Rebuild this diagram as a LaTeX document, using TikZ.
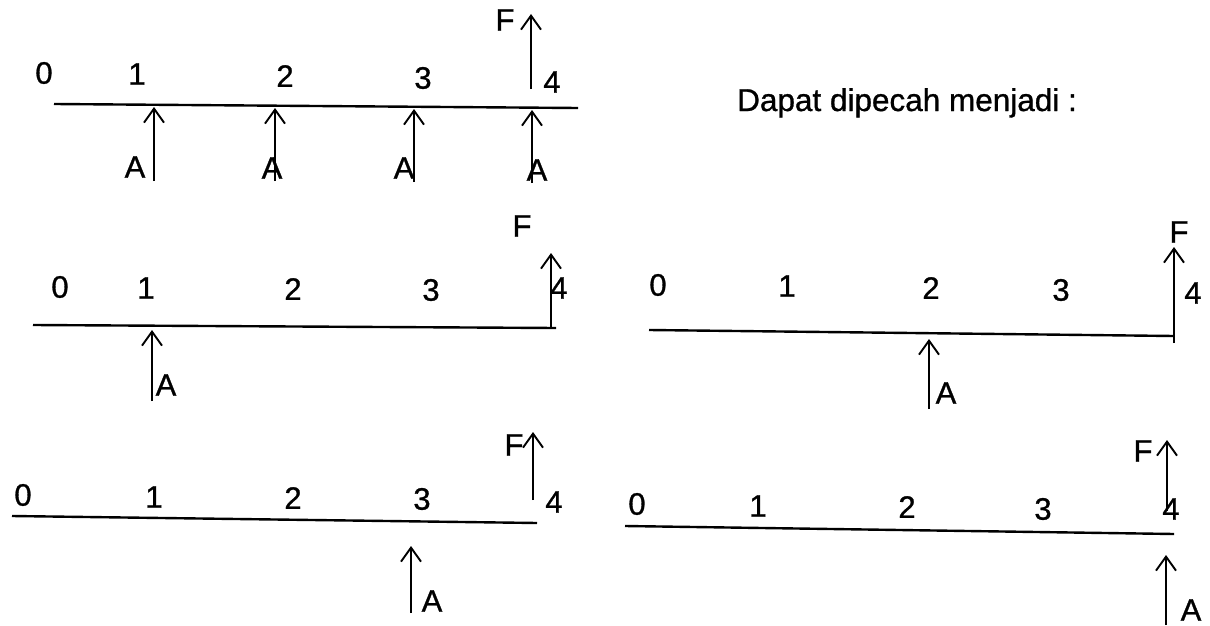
\documentclass[tikz,border=0pt]{standalone}
\usepackage{fontspec}
\setmainfont{Liberation Sans}
\newfontfamily\scanfont{Liberation Sans}[FakeBold=0.9]
\usetikzlibrary{arrows.meta}
\begin{document}
\begin{tikzpicture}[x=1pt,y=-1pt,
  lbl/.style={inner sep=0pt,font=\scanfont\fontsize{31}{31}\selectfont},
  tline/.style={line width=2.4pt},
  arr/.style={line width=1.9pt,-{Straight Barb[length=14pt,width=20pt,line width=1.9pt]}}]
\useasboundingbox (0,0) rectangle (1210,626);
% ---------- row 1 ----------
\node[lbl] (r1n0) at (44,73) {0};
\node[lbl] (r1n1) at (137,74) {1};
\node[lbl] (r1n2) at (285,76) {2};
\node[lbl] (r1n3) at (423,78) {3};
\node[lbl] (r1n4) at (552,82) {4};
\coordinate (r1l) at (54,104); \coordinate (r1r) at (578,108);
\draw[tline] (r1l) -- (r1r);
\coordinate (r1a1b) at (154,181); \coordinate (r1a1t) at (154,107);
\coordinate (r1a2b) at (275,181); \coordinate (r1a2t) at (275,108);
\coordinate (r1a3b) at (414,182); \coordinate (r1a3t) at (414,109);
\coordinate (r1a4b) at (532,183); \coordinate (r1a4t) at (532,110);
\draw[arr] (r1a1b) -- (r1a1t);
\draw[arr] (r1a2b) -- (r1a2t);
\draw[arr] (r1a3b) -- (r1a3t);
\draw[arr] (r1a4b) -- (r1a4t);
\node[lbl] (r1A1) at (135,167) {A};
\node[lbl] (r1A2) at (272,168) {A};
\node[lbl] (r1A3) at (404,168) {A};
\node[lbl] (r1A4) at (537,170) {A};
\coordinate (r1fb) at (531,89); \coordinate (r1ft) at (531,14);
\draw[arr] (r1fb) -- (r1ft);
\node[lbl] (r1F) at (505,20) {F};
\node[inner sep=0pt,anchor=base west,font=\scanfont\fontsize{31.5}{32}\selectfont] (txt) at (737,111) {Dapat dipecah menjadi :};
% ---------- row 2 left ----------
\node[lbl] (r2n0) at (60,287) {0};
\node[lbl] (r2n1) at (146,288) {1};
\node[lbl] (r2n2) at (293,289) {2};
\node[lbl] (r2n3) at (431,290) {3};
\node[lbl] (r2n4) at (559,288) {4};
\coordinate (r2l) at (33,325); \coordinate (r2r) at (556,328);
\draw[tline] (r2l) -- (r2r);
\coordinate (r2ab) at (152,401); \coordinate (r2at) at (152,330);
\draw[arr] (r2ab) -- (r2at);
\node[lbl] (r2A) at (166,385) {A};
\coordinate (r2fb) at (551,328); \coordinate (r2ft) at (551,253);
\draw[arr] (r2fb) -- (r2ft);
\node[lbl] (r2F) at (522,226) {F};
% ---------- row 2 right ----------
\node[lbl] (r2rn0) at (658,285) {0};
\node[lbl] (r2rn1) at (787,286) {1};
\node[lbl] (r2rn2) at (931,288) {2};
\node[lbl] (r2rn3) at (1061,290) {3};
\node[lbl] (r2rn4) at (1193,293) {4};
\coordinate (r2rl) at (649,330); \coordinate (r2rr) at (1174,336);
\draw[tline] (r2rl) -- (r2rr);
\coordinate (r2rab) at (929,409); \coordinate (r2rat) at (929,339);
\draw[arr] (r2rab) -- (r2rat);
\node[lbl] (r2rA) at (946,393) {A};
\coordinate (r2rfb) at (1174,343); \coordinate (r2rft) at (1174,247);
\draw[arr] (r2rfb) -- (r2rft);
\node[lbl] (r2rF) at (1179,232) {F};
% ---------- row 3 left ----------
\node[lbl] (r3n0) at (23,495) {0};
\node[lbl] (r3n1) at (154,497) {1};
\node[lbl] (r3n2) at (293,498) {2};
\node[lbl] (r3n3) at (422,499) {3};
\node[lbl] (r3n4) at (554,502) {4};
\coordinate (r3l) at (12,516); \coordinate (r3r) at (537,523);
\draw[tline] (r3l) -- (r3r);
\coordinate (r3ab) at (411,613); \coordinate (r3at) at (411,546);
\draw[arr] (r3ab) -- (r3at);
\node[lbl] (r3A) at (432,601) {A};
\coordinate (r3fb) at (533,500); \coordinate (r3ft) at (533,432);
\draw[arr] (r3fb) -- (r3ft);
\node[lbl] (r3F) at (514,445) {F};
% ---------- row 3 right ----------
\node[lbl] (r3rn0) at (637,504) {0};
\node[lbl] (r3rn1) at (758,506) {1};
\node[lbl] (r3rn2) at (907,507) {2};
\node[lbl] (r3rn3) at (1043,509) {3};
\node[lbl] (r3rn4) at (1171,509) {4};
\coordinate (r3rl) at (625,526); \coordinate (r3rr) at (1174,534);
\draw[tline] (r3rl) -- (r3rr);
\coordinate (r3rab) at (1166,625); \coordinate (r3rat) at (1166,555);
\draw[arr] (r3rab) -- (r3rat);
\node[lbl] (r3rA) at (1191,610) {A};
\coordinate (r3rfb) at (1167,511); \coordinate (r3rft) at (1167,440);
\draw[arr] (r3rfb) -- (r3rft);
\node[lbl] (r3rF) at (1143,451) {F};
\end{tikzpicture}
\end{document}
